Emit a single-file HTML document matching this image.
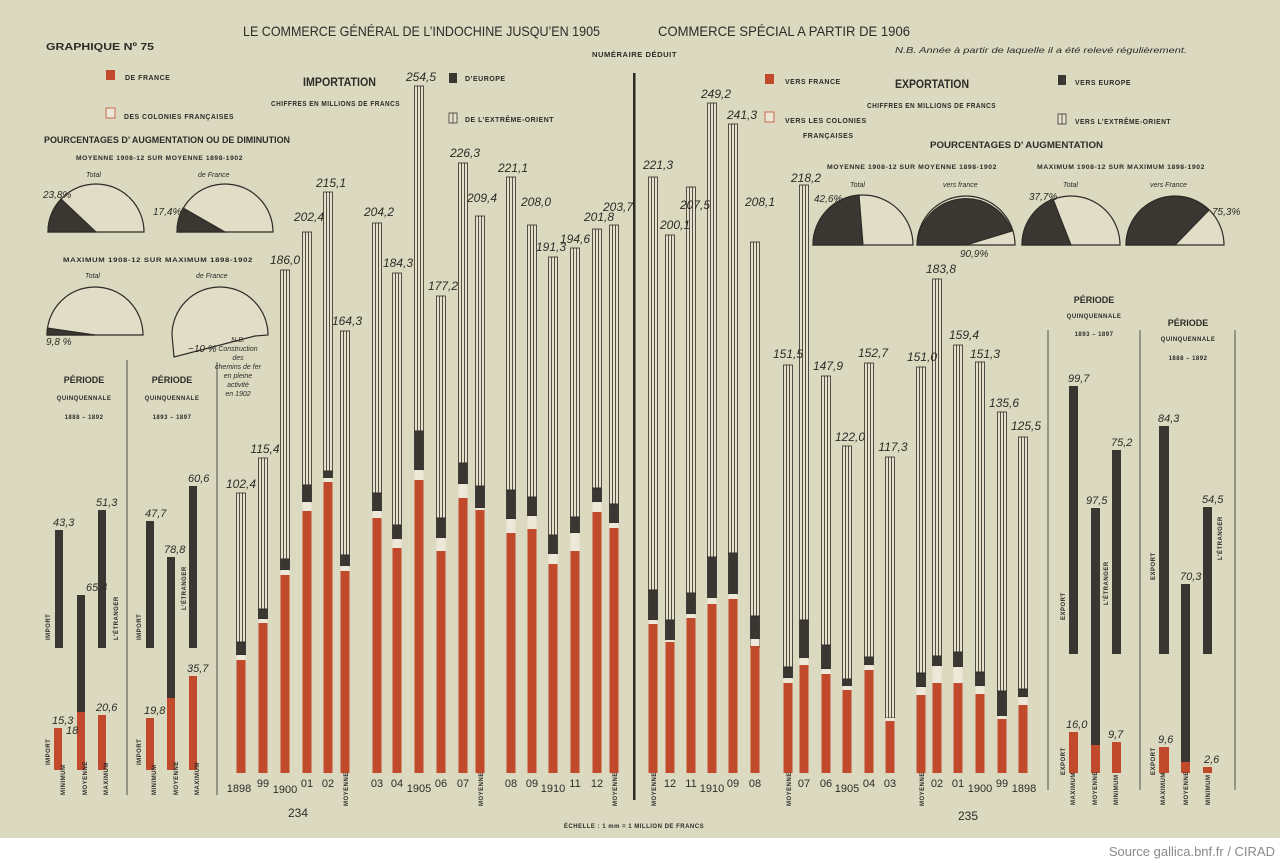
<!DOCTYPE html>
<html><head><meta charset="utf-8"><style>
html,body{margin:0;padding:0;background:#fff}
svg{display:block}
text{font-family:"Liberation Sans",sans-serif;fill:#2e2b27}
.t{font-size:14px}
.s{font-size:7px;font-weight:bold;letter-spacing:0.5px}
.i{font-style:italic;font-size:12px}
.ii{font-style:italic;font-size:7px}
.y{font-size:11px}
.h{font-size:12px;font-weight:bold}
</style></head><body>
<svg width="1280" height="863" viewBox="0 0 1280 863" xmlns="http://www.w3.org/2000/svg">
<defs>
<g id="none"></g>
</defs>
<rect x="0" y="0" width="1280" height="838" fill="#dcd9c1"/>
<rect x="0" y="838" width="1280" height="25" fill="#ffffff"/>
<text x="1275" y="856" text-anchor="end" style="font-size:13px;fill:#8a8a8a">Source gallica.bnf.fr / CIRAD</text>

<!-- titles -->
<text x="243" y="36" class="t" textLength="357" lengthAdjust="spacingAndGlyphs">LE COMMERCE GÉNÉRAL DE L’INDOCHINE JUSQU’EN 1905</text>
<text x="658" y="36" class="t" textLength="252" lengthAdjust="spacingAndGlyphs">COMMERCE SPÉCIAL A PARTIR DE 1906</text>
<text x="46" y="50" style="font-size:10px;font-weight:bold" textLength="108" lengthAdjust="spacingAndGlyphs">GRAPHIQUE Nº 75</text>
<text x="592" y="57" class="s" textLength="85" lengthAdjust="spacingAndGlyphs">NUMÉRAIRE DÉDUIT</text>
<text x="895" y="53" class="ii" style="font-size:8px" textLength="292" lengthAdjust="spacingAndGlyphs">N.B. Année à partir de laquelle il a été relevé régulièrement.</text>

<!-- left legend -->
<rect x="106" y="70" width="9" height="10" fill="#c24a2c"/>
<text x="125" y="80" class="s">DE  FRANCE</text>
<rect x="106" y="108" width="9" height="10" fill="#ece6d4" stroke="#c24a2c" stroke-width="0.8"/>
<text x="124" y="119" class="s" textLength="110" lengthAdjust="spacingAndGlyphs">DES COLONIES FRANÇAISES</text>
<text x="303" y="86" class="h" textLength="73" lengthAdjust="spacingAndGlyphs">IMPORTATION</text>
<text x="271" y="106" class="s" textLength="129" lengthAdjust="spacingAndGlyphs">CHIFFRES EN MILLIONS DE FRANCS</text>
<rect x="449" y="73" width="8" height="10" fill="#3a3632"/>
<text x="465" y="81" class="s">D’EUROPE</text>
<rect x="449" y="113" width="8" height="10" fill="#e8e2cc" stroke="#333" stroke-width="0.8"/><line x1="453" y1="113" x2="453" y2="123" stroke="#333" stroke-width="0.8"/>
<text x="465" y="122" class="s" textLength="89" lengthAdjust="spacingAndGlyphs">DE L’EXTRÊME-ORIENT</text>
<text x="44" y="143" style="font-size:9px;font-weight:bold" textLength="246" lengthAdjust="spacingAndGlyphs">POURCENTAGES D’ AUGMENTATION OU DE DIMINUTION</text>
<text x="76" y="160" class="s" style="font-size:6px" textLength="167" lengthAdjust="spacingAndGlyphs">MOYENNE 1908-12  SUR MOYENNE 1898-1902</text>
<text x="86" y="177" class="ii">Total</text>
<text x="198" y="177" class="ii">de France</text>
<text x="63" y="262" class="s" style="font-size:6px" textLength="190" lengthAdjust="spacingAndGlyphs">MAXIMUM   1908-12  SUR MAXIMUM  1898-1902</text>
<text x="85" y="278" class="ii">Total</text>
<text x="196" y="278" class="ii">de France</text>

<!-- left pies -->
<g stroke="#2e2b27" stroke-width="1.2">
<path d="M48,232 A48,48 0 0 1 144,232 Z" fill="#e1ddc6"/>
<path d="M96,232 L48,232 A48,48 0 0 1 61,199 Z" fill="#3a3632"/>
<path d="M177,232 A48,48 0 0 1 273,232 Z" fill="#e1ddc6"/>
<path d="M225,232 L177,232 A48,48 0 0 1 183,208 Z" fill="#3a3632"/>
<path d="M47,335 A48,48 0 0 1 143,335 Z" fill="#e1ddc6"/>
<path d="M95,335 L47,335 A48,48 0 0 1 47.5,328 Z" fill="#3a3632"/>
<path d="M172,335 A48,48 0 0 1 268,335 L255,336 L174,357 Z" fill="#e1ddc6"/>
</g>
<text x="43" y="198" class="ii" style="font-size:10px">23,8%</text>
<text x="153" y="215" class="ii" style="font-size:10px">17,4%</text>
<text x="46" y="345" class="ii" style="font-size:10px">9,8 %</text>
<text x="188" y="352" class="ii" style="font-size:10px">−10 %</text>
<text x="238" y="342" class="ii" text-anchor="middle">N.B.</text>
<text x="238" y="351" class="ii" text-anchor="middle">Construction</text>
<text x="238" y="360" class="ii" text-anchor="middle">des</text>
<text x="238" y="369" class="ii" text-anchor="middle">chemins de fer</text>
<text x="238" y="378" class="ii" text-anchor="middle">en pleine</text>
<text x="238" y="387" class="ii" text-anchor="middle">activité</text>
<text x="238" y="396" class="ii" text-anchor="middle">en 1902</text>

<!-- right legend -->
<rect x="765" y="74" width="9" height="10" fill="#c24a2c"/>
<text x="785" y="84" class="s">VERS FRANCE</text>
<text x="895" y="88" class="h" textLength="74" lengthAdjust="spacingAndGlyphs">EXPORTATION</text>
<text x="867" y="108" class="s" textLength="129" lengthAdjust="spacingAndGlyphs">CHIFFRES EN MILLIONS DE FRANCS</text>
<rect x="765" y="112" width="9" height="10" fill="#ece6d4" stroke="#c24a2c" stroke-width="0.8"/>
<text x="785" y="123" class="s">VERS LES COLONIES</text>
<text x="803" y="138" class="s">FRANÇAISES</text>
<rect x="1058" y="75" width="8" height="10" fill="#3a3632"/>
<text x="1075" y="85" class="s">VERS EUROPE</text>
<rect x="1058" y="114" width="8" height="10" fill="#e8e2cc" stroke="#333" stroke-width="0.8"/><line x1="1062" y1="114" x2="1062" y2="124" stroke="#333" stroke-width="0.8"/>
<text x="1075" y="124" class="s" textLength="96" lengthAdjust="spacingAndGlyphs">VERS L’EXTRÊME-ORIENT</text>
<text x="930" y="148" style="font-size:9px;font-weight:bold" textLength="173" lengthAdjust="spacingAndGlyphs">POURCENTAGES    D’ AUGMENTATION</text>
<text x="827" y="169" class="s" style="font-size:6px" textLength="170" lengthAdjust="spacingAndGlyphs">MOYENNE 1908-12   SUR MOYENNE 1898-1902</text>
<text x="1037" y="169" class="s" style="font-size:6px" textLength="168" lengthAdjust="spacingAndGlyphs">MAXIMUM 1908-12  SUR MAXIMUM 1898-1902</text>
<text x="850" y="187" class="ii">Total</text>
<text x="943" y="187" class="ii">vers france</text>
<text x="1063" y="187" class="ii">Total</text>
<text x="1150" y="187" class="ii">vers France</text>
<g stroke="#2e2b27" stroke-width="1.2">
<path d="M813,245 A50,50 0 0 1 913,245 Z" fill="#e1ddc6"/>
<path d="M863,245 L813,245 A50,50 0 0 1 859,195 Z" fill="#3a3632"/>
<path d="M917,245 A49,49 0 0 1 1015,245 Z" fill="#e1ddc6"/>
<path d="M966,245 L917,245 A49,49 0 0 1 1012,231 Z" fill="#3a3632"/>
<path d="M1022,245 A49,49 0 0 1 1120,245 Z" fill="#e1ddc6"/>
<path d="M1071,245 L1022,245 A49,49 0 0 1 1053,199 Z" fill="#3a3632"/>
<path d="M1126,245 A49,49 0 0 1 1224,245 Z" fill="#e1ddc6"/>
<path d="M1175,245 L1126,245 A49,49 0 0 1 1209,210 Z" fill="#3a3632"/>
</g>
<text x="814" y="202" class="ii" style="font-size:10px">42,6%</text>
<text x="960" y="257" class="ii" style="font-size:10px">90,9%</text>
<text x="1029" y="200" class="ii" style="font-size:10px">37,7%</text>
<text x="1212" y="215" class="ii" style="font-size:10px">75,3%</text>

<!-- dividers -->
<rect x="633" y="73" width="2.5" height="727" fill="#2e2b27"/>
<line x1="127" y1="360" x2="127" y2="795" stroke="#2e2b27" stroke-width="0.8"/>
<line x1="217" y1="362" x2="217" y2="795" stroke="#2e2b27" stroke-width="0.8"/>
<line x1="1048" y1="330" x2="1048" y2="790" stroke="#2e2b27" stroke-width="0.8"/>
<line x1="1140" y1="330" x2="1140" y2="790" stroke="#2e2b27" stroke-width="0.8"/>
<line x1="1235" y1="330" x2="1235" y2="790" stroke="#2e2b27" stroke-width="0.8"/>

<!-- left side panels -->
<text x="84" y="383" style="font-size:9px;font-weight:bold" text-anchor="middle">PÉRIODE</text>
<text x="84" y="400" class="s" style="font-size:6px" text-anchor="middle">QUINQUENNALE</text>
<text x="84" y="419" class="s" style="font-size:6px" text-anchor="middle">1888 – 1892</text>
<text x="172" y="383" style="font-size:9px;font-weight:bold" text-anchor="middle">PÉRIODE</text>
<text x="172" y="400" class="s" style="font-size:6px" text-anchor="middle">QUINQUENNALE</text>
<text x="172" y="419" class="s" style="font-size:6px" text-anchor="middle">1893 – 1897</text>
<g fill="#3a3632">
<rect x="55" y="530" width="8" height="118"/>
<rect x="77" y="595" width="8" height="117"/>
<rect x="98" y="510" width="8" height="138"/>
<rect x="146" y="521" width="8" height="127"/>
<rect x="167" y="557" width="8" height="141"/>
<rect x="189" y="486" width="8" height="162"/>
<rect x="1069" y="386" width="9" height="268"/>
<rect x="1091" y="508" width="9" height="237"/>
<rect x="1112" y="450" width="9" height="204"/>
<rect x="1159" y="426" width="10" height="228"/>
<rect x="1181" y="584" width="9" height="178"/>
<rect x="1203" y="507" width="9" height="147"/>
</g>
<g fill="#c24a2c">
<rect x="54" y="728" width="8" height="42"/>
<rect x="77" y="712" width="8" height="58"/>
<rect x="98" y="715" width="8" height="55"/>
<rect x="146" y="718" width="8" height="52"/>
<rect x="167" y="698" width="8" height="72"/>
<rect x="189" y="676" width="8" height="94"/>
<rect x="1069" y="732" width="9" height="41"/>
<rect x="1091" y="745" width="9" height="28"/>
<rect x="1112" y="742" width="9" height="31"/>
<rect x="1159" y="747" width="10" height="26"/>
<rect x="1181" y="762" width="9" height="11"/>
<rect x="1203" y="767" width="9" height="6"/>
</g>
<g class="i" style="font-size:11px">
<text x="53" y="526">43,3</text><text x="86" y="591">65,4</text><text x="96" y="506">51,3</text>
<text x="52" y="724">15,3</text><text x="66" y="734">18</text><text x="96" y="711">20,6</text>
<text x="145" y="517">47,7</text><text x="164" y="553">78,8</text><text x="188" y="482">60,6</text>
<text x="144" y="714">19,8</text><text x="187" y="672">35,7</text>
<text x="1068" y="382">99,7</text><text x="1086" y="504">97,5</text><text x="1111" y="446">75,2</text>
<text x="1066" y="728">16,0</text><text x="1108" y="738">9,7</text>
<text x="1158" y="422">84,3</text><text x="1180" y="580">70,3</text><text x="1202" y="503">54,5</text>
<text x="1158" y="743">9,6</text><text x="1204" y="763">2,6</text>
</g>
<text x="1094" y="303" style="font-size:9px;font-weight:bold" text-anchor="middle">PÉRIODE</text>
<text x="1094" y="318" class="s" style="font-size:6px" text-anchor="middle">QUINQUENNALE</text>
<text x="1094" y="336" class="s" style="font-size:6px" text-anchor="middle">1893 – 1897</text>
<text x="1188" y="326" style="font-size:9px;font-weight:bold" text-anchor="middle">PÉRIODE</text>
<text x="1188" y="341" class="s" style="font-size:6px" text-anchor="middle">QUINQUENNALE</text>
<text x="1188" y="360" class="s" style="font-size:6px" text-anchor="middle">1888 – 1892</text>
<g class="s" style="font-size:6px">
<text transform="translate(50,640) rotate(-90)">IMPORT</text>
<text transform="translate(50,765) rotate(-90)">IMPORT</text>
<text transform="translate(65,795) rotate(-90)">MINIMUM</text>
<text transform="translate(87,795) rotate(-90)">MOYENNE</text>
<text transform="translate(108,795) rotate(-90)">MAXIMUM</text>
<text transform="translate(118,640) rotate(-90)">L’ÉTRANGER</text>
<text transform="translate(141,640) rotate(-90)">IMPORT</text>
<text transform="translate(141,765) rotate(-90)">IMPORT</text>
<text transform="translate(156,795) rotate(-90)">MINIMUM</text>
<text transform="translate(178,795) rotate(-90)">MOYENNE</text>
<text transform="translate(199,795) rotate(-90)">MAXIMUM</text>
<text transform="translate(186,610) rotate(-90)">L’ÉTRANGER</text>
<text transform="translate(1065,620) rotate(-90)">EXPORT</text>
<text transform="translate(1065,775) rotate(-90)">EXPORT</text>
<text transform="translate(1075,805) rotate(-90)">MAXIMUM</text>
<text transform="translate(1097,805) rotate(-90)">MOYENNE</text>
<text transform="translate(1118,805) rotate(-90)">MINIMUM</text>
<text transform="translate(1108,605) rotate(-90)">L’ÉTRANGER</text>
<text transform="translate(1155,580) rotate(-90)">EXPORT</text>
<text transform="translate(1155,775) rotate(-90)">EXPORT</text>
<text transform="translate(1165,805) rotate(-90)">MAXIMUM</text>
<text transform="translate(1188,805) rotate(-90)">MOYENNE</text>
<text transform="translate(1210,805) rotate(-90)">MINIMUM</text>
<text transform="translate(1222,560) rotate(-90)">L’ÉTRANGER</text>
</g>

<!-- main bars -->
<g id="bars" stroke="#2e2b27" stroke-width="0.8">
</g>
<g stroke="#2e2b27" stroke-width="0.8">
<!-- import: cx,T,D,R -->
<g transform="translate(236.5,0)"><rect y="493" width="9" height="149" fill="#e6e0ca"/><path d="M3,493V642M6,493V642"/><rect y="642" width="9" height="13" fill="#3a3632"/><rect y="655" width="9" height="5" fill="#eee8d8" stroke="none"/><rect y="660" width="9" height="113" fill="#c24a2c" stroke="none"/></g>
<g transform="translate(258.5,0)"><rect y="458" width="9" height="151" fill="#e6e0ca"/><path d="M3,458V609M6,458V609"/><rect y="609" width="9" height="10" fill="#3a3632"/><rect y="619" width="9" height="4" fill="#eee8d8" stroke="none"/><rect y="623" width="9" height="150" fill="#c24a2c" stroke="none"/></g>
<g transform="translate(280.5,0)"><rect y="270" width="9" height="289" fill="#e6e0ca"/><path d="M3,270V559M6,270V559"/><rect y="559" width="9" height="11" fill="#3a3632"/><rect y="570" width="9" height="5" fill="#eee8d8" stroke="none"/><rect y="575" width="9" height="198" fill="#c24a2c" stroke="none"/></g>
<g transform="translate(302.5,0)"><rect y="232" width="9" height="253" fill="#e6e0ca"/><path d="M3,232V485M6,232V485"/><rect y="485" width="9" height="17" fill="#3a3632"/><rect y="502" width="9" height="9" fill="#eee8d8" stroke="none"/><rect y="511" width="9" height="262" fill="#c24a2c" stroke="none"/></g>
<g transform="translate(323.5,0)"><rect y="192" width="9" height="279" fill="#e6e0ca"/><path d="M3,192V471M6,192V471"/><rect y="471" width="9" height="7" fill="#3a3632"/><rect y="478" width="9" height="4" fill="#eee8d8" stroke="none"/><rect y="482" width="9" height="291" fill="#c24a2c" stroke="none"/></g>
<g transform="translate(340.5,0)"><rect y="331" width="9" height="224" fill="#e6e0ca"/><path d="M3,331V555M6,331V555"/><rect y="555" width="9" height="11" fill="#3a3632"/><rect y="566" width="9" height="5" fill="#eee8d8" stroke="none"/><rect y="571" width="9" height="202" fill="#c24a2c" stroke="none"/></g>
<g transform="translate(372.5,0)"><rect y="223" width="9" height="270" fill="#e6e0ca"/><path d="M3,223V493M6,223V493"/><rect y="493" width="9" height="18" fill="#3a3632"/><rect y="511" width="9" height="7" fill="#eee8d8" stroke="none"/><rect y="518" width="9" height="255" fill="#c24a2c" stroke="none"/></g>
<g transform="translate(392.5,0)"><rect y="273" width="9" height="252" fill="#e6e0ca"/><path d="M3,273V525M6,273V525"/><rect y="525" width="9" height="14" fill="#3a3632"/><rect y="539" width="9" height="9" fill="#eee8d8" stroke="none"/><rect y="548" width="9" height="225" fill="#c24a2c" stroke="none"/></g>
<g transform="translate(414.5,0)"><rect y="86" width="9" height="345" fill="#e6e0ca"/><path d="M3,86V431M6,86V431"/><rect y="431" width="9" height="39" fill="#3a3632"/><rect y="470" width="9" height="10" fill="#eee8d8" stroke="none"/><rect y="480" width="9" height="293" fill="#c24a2c" stroke="none"/></g>
<g transform="translate(436.5,0)"><rect y="296" width="9" height="222" fill="#e6e0ca"/><path d="M3,296V518M6,296V518"/><rect y="518" width="9" height="20" fill="#3a3632"/><rect y="538" width="9" height="13" fill="#eee8d8" stroke="none"/><rect y="551" width="9" height="222" fill="#c24a2c" stroke="none"/></g>
<g transform="translate(458.5,0)"><rect y="163" width="9" height="300" fill="#e6e0ca"/><path d="M3,163V463M6,163V463"/><rect y="463" width="9" height="21" fill="#3a3632"/><rect y="484" width="9" height="14" fill="#eee8d8" stroke="none"/><rect y="498" width="9" height="275" fill="#c24a2c" stroke="none"/></g>
<g transform="translate(475.5,0)"><rect y="216" width="9" height="270" fill="#e6e0ca"/><path d="M3,216V486M6,216V486"/><rect y="486" width="9" height="22" fill="#3a3632"/><rect y="508" width="9" height="2" fill="#eee8d8" stroke="none"/><rect y="510" width="9" height="263" fill="#c24a2c" stroke="none"/></g>
<g transform="translate(506.5,0)"><rect y="177" width="9" height="313" fill="#e6e0ca"/><path d="M3,177V490M6,177V490"/><rect y="490" width="9" height="29" fill="#3a3632"/><rect y="519" width="9" height="14" fill="#eee8d8" stroke="none"/><rect y="533" width="9" height="240" fill="#c24a2c" stroke="none"/></g>
<g transform="translate(527.5,0)"><rect y="225" width="9" height="272" fill="#e6e0ca"/><path d="M3,225V497M6,225V497"/><rect y="497" width="9" height="19" fill="#3a3632"/><rect y="516" width="9" height="13" fill="#eee8d8" stroke="none"/><rect y="529" width="9" height="244" fill="#c24a2c" stroke="none"/></g>
<g transform="translate(548.5,0)"><rect y="257" width="9" height="278" fill="#e6e0ca"/><path d="M3,257V535M6,257V535"/><rect y="535" width="9" height="19" fill="#3a3632"/><rect y="554" width="9" height="10" fill="#eee8d8" stroke="none"/><rect y="564" width="9" height="209" fill="#c24a2c" stroke="none"/></g>
<g transform="translate(570.5,0)"><rect y="248" width="9" height="269" fill="#e6e0ca"/><path d="M3,248V517M6,248V517"/><rect y="517" width="9" height="16" fill="#3a3632"/><rect y="533" width="9" height="18" fill="#eee8d8" stroke="none"/><rect y="551" width="9" height="222" fill="#c24a2c" stroke="none"/></g>
<g transform="translate(592.5,0)"><rect y="229" width="9" height="259" fill="#e6e0ca"/><path d="M3,229V488M6,229V488"/><rect y="488" width="9" height="14" fill="#3a3632"/><rect y="502" width="9" height="10" fill="#eee8d8" stroke="none"/><rect y="512" width="9" height="261" fill="#c24a2c" stroke="none"/></g>
<g transform="translate(609.5,0)"><rect y="225" width="9" height="279" fill="#e6e0ca"/><path d="M3,225V504M6,225V504"/><rect y="504" width="9" height="19" fill="#3a3632"/><rect y="523" width="9" height="5" fill="#eee8d8" stroke="none"/><rect y="528" width="9" height="245" fill="#c24a2c" stroke="none"/></g>
<!-- export -->
<g transform="translate(648.5,0)"><rect y="177" width="9" height="413" fill="#e6e0ca"/><path d="M3,177V590M6,177V590"/><rect y="590" width="9" height="30" fill="#3a3632"/><rect y="620" width="9" height="4" fill="#eee8d8" stroke="none"/><rect y="624" width="9" height="149" fill="#c24a2c" stroke="none"/></g>
<g transform="translate(665.5,0)"><rect y="235" width="9" height="385" fill="#e6e0ca"/><path d="M3,235V620M6,235V620"/><rect y="620" width="9" height="20" fill="#3a3632"/><rect y="640" width="9" height="2" fill="#eee8d8" stroke="none"/><rect y="642" width="9" height="131" fill="#c24a2c" stroke="none"/></g>
<g transform="translate(686.5,0)"><rect y="187" width="9" height="406" fill="#e6e0ca"/><path d="M3,187V593M6,187V593"/><rect y="593" width="9" height="21" fill="#3a3632"/><rect y="614" width="9" height="4" fill="#eee8d8" stroke="none"/><rect y="618" width="9" height="155" fill="#c24a2c" stroke="none"/></g>
<g transform="translate(707.5,0)"><rect y="103" width="9" height="454" fill="#e6e0ca"/><path d="M3,103V557M6,103V557"/><rect y="557" width="9" height="41" fill="#3a3632"/><rect y="598" width="9" height="6" fill="#eee8d8" stroke="none"/><rect y="604" width="9" height="169" fill="#c24a2c" stroke="none"/></g>
<g transform="translate(728.5,0)"><rect y="124" width="9" height="429" fill="#e6e0ca"/><path d="M3,124V553M6,124V553"/><rect y="553" width="9" height="41" fill="#3a3632"/><rect y="594" width="9" height="5" fill="#eee8d8" stroke="none"/><rect y="599" width="9" height="174" fill="#c24a2c" stroke="none"/></g>
<g transform="translate(750.5,0)"><rect y="242" width="9" height="374" fill="#e6e0ca"/><path d="M3,242V616M6,242V616"/><rect y="616" width="9" height="31" fill="#3a3632"/><rect y="639" width="9" height="7" fill="#eee8d8" stroke="none"/><rect y="646" width="9" height="127" fill="#c24a2c" stroke="none"/></g>
<g transform="translate(783.5,0)"><rect y="365" width="9" height="302" fill="#e6e0ca"/><path d="M3,365V667M6,365V667"/><rect y="667" width="9" height="11" fill="#3a3632"/><rect y="678" width="9" height="5" fill="#eee8d8" stroke="none"/><rect y="683" width="9" height="90" fill="#c24a2c" stroke="none"/></g>
<g transform="translate(799.5,0)"><rect y="185" width="9" height="435" fill="#e6e0ca"/><path d="M3,185V620M6,185V620"/><rect y="620" width="9" height="38" fill="#3a3632"/><rect y="658" width="9" height="7" fill="#eee8d8" stroke="none"/><rect y="665" width="9" height="108" fill="#c24a2c" stroke="none"/></g>
<g transform="translate(821.5,0)"><rect y="376" width="9" height="269" fill="#e6e0ca"/><path d="M3,376V645M6,376V645"/><rect y="645" width="9" height="24" fill="#3a3632"/><rect y="669" width="9" height="5" fill="#eee8d8" stroke="none"/><rect y="674" width="9" height="99" fill="#c24a2c" stroke="none"/></g>
<g transform="translate(842.5,0)"><rect y="446" width="9" height="233" fill="#e6e0ca"/><path d="M3,446V679M6,446V679"/><rect y="679" width="9" height="7" fill="#3a3632"/><rect y="686" width="9" height="4" fill="#eee8d8" stroke="none"/><rect y="690" width="9" height="83" fill="#c24a2c" stroke="none"/></g>
<g transform="translate(864.5,0)"><rect y="363" width="9" height="294" fill="#e6e0ca"/><path d="M3,363V657M6,363V657"/><rect y="657" width="9" height="8" fill="#3a3632"/><rect y="665" width="9" height="5" fill="#eee8d8" stroke="none"/><rect y="670" width="9" height="103" fill="#c24a2c" stroke="none"/></g>
<g transform="translate(885.5,0)"><rect y="457" width="9" height="261" fill="#e6e0ca"/><path d="M3,457V718M6,457V718"/><rect y="718" width="9" height="3" fill="#eee8d8" stroke="none"/><rect y="721" width="9" height="52" fill="#c24a2c" stroke="none"/></g>
<g transform="translate(916.5,0)"><rect y="367" width="9" height="306" fill="#e6e0ca"/><path d="M3,367V673M6,367V673"/><rect y="673" width="9" height="14" fill="#3a3632"/><rect y="687" width="9" height="8" fill="#eee8d8" stroke="none"/><rect y="695" width="9" height="78" fill="#c24a2c" stroke="none"/></g>
<g transform="translate(932.5,0)"><rect y="279" width="9" height="377" fill="#e6e0ca"/><path d="M3,279V656M6,279V656"/><rect y="656" width="9" height="10" fill="#3a3632"/><rect y="666" width="9" height="17" fill="#eee8d8" stroke="none"/><rect y="683" width="9" height="90" fill="#c24a2c" stroke="none"/></g>
<g transform="translate(953.5,0)"><rect y="345" width="9" height="307" fill="#e6e0ca"/><path d="M3,345V652M6,345V652"/><rect y="652" width="9" height="15" fill="#3a3632"/><rect y="667" width="9" height="16" fill="#eee8d8" stroke="none"/><rect y="683" width="9" height="90" fill="#c24a2c" stroke="none"/></g>
<g transform="translate(975.5,0)"><rect y="362" width="9" height="310" fill="#e6e0ca"/><path d="M3,362V672M6,362V672"/><rect y="672" width="9" height="14" fill="#3a3632"/><rect y="686" width="9" height="8" fill="#eee8d8" stroke="none"/><rect y="694" width="9" height="79" fill="#c24a2c" stroke="none"/></g>
<g transform="translate(997.5,0)"><rect y="412" width="9" height="279" fill="#e6e0ca"/><path d="M3,412V691M6,412V691"/><rect y="691" width="9" height="25" fill="#3a3632"/><rect y="716" width="9" height="3" fill="#eee8d8" stroke="none"/><rect y="719" width="9" height="54" fill="#c24a2c" stroke="none"/></g>
<g transform="translate(1018.5,0)"><rect y="437" width="9" height="252" fill="#e6e0ca"/><path d="M3,437V689M6,437V689"/><rect y="689" width="9" height="8" fill="#3a3632"/><rect y="697" width="9" height="8" fill="#eee8d8" stroke="none"/><rect y="705" width="9" height="68" fill="#c24a2c" stroke="none"/></g>
</g>

<!-- totals -->
<g class="i" text-anchor="middle">
<text x="241" y="488">102,4</text><text x="265" y="453">115,4</text><text x="285" y="264">186,0</text>
<text x="309" y="221">202,4</text><text x="331" y="187">215,1</text><text x="347" y="325">164,3</text>
<text x="379" y="216">204,2</text><text x="398" y="267">184,3</text><text x="421" y="81">254,5</text>
<text x="443" y="290">177,2</text><text x="465" y="157">226,3</text><text x="482" y="202">209,4</text>
<text x="513" y="172">221,1</text><text x="536" y="206">208,0</text><text x="551" y="251">191,3</text>
<text x="575" y="243">194,6</text><text x="599" y="221">201,8</text><text x="618" y="211">203,7</text>
<text x="658" y="169">221,3</text><text x="675" y="229">200,1</text><text x="695" y="209">207,5</text>
<text x="716" y="98">249,2</text><text x="742" y="119">241,3</text><text x="760" y="206">208,1</text>
<text x="788" y="358">151,5</text><text x="806" y="182">218,2</text><text x="828" y="370">147,9</text>
<text x="850" y="441">122,0</text><text x="873" y="357">152,7</text><text x="893" y="451">117,3</text>
<text x="922" y="361">151,0</text><text x="941" y="273">183,8</text><text x="964" y="339">159,4</text>
<text x="985" y="358">151,3</text><text x="1004" y="407">135,6</text><text x="1026" y="430">125,5</text>
</g>

<!-- years -->
<g class="y" text-anchor="middle">
<text x="239" y="792">1898</text><text x="263" y="787">99</text><text x="285" y="793">1900</text>
<text x="307" y="787">01</text><text x="328" y="787">02</text><text x="377" y="787">03</text>
<text x="397" y="787">04</text><text x="419" y="792">1905</text><text x="441" y="787">06</text>
<text x="463" y="787">07</text><text x="511" y="787">08</text><text x="532" y="787">09</text>
<text x="553" y="792">1910</text><text x="575" y="787">11</text><text x="597" y="787">12</text>
<text x="670" y="787">12</text><text x="691" y="787">11</text><text x="712" y="792">1910</text>
<text x="733" y="787">09</text><text x="755" y="787">08</text><text x="804" y="787">07</text>
<text x="826" y="787">06</text><text x="847" y="792">1905</text><text x="869" y="787">04</text>
<text x="890" y="787">03</text><text x="937" y="787">02</text><text x="958" y="787">01</text>
<text x="980" y="792">1900</text><text x="1002" y="787">99</text><text x="1024" y="792">1898</text>
</g>
<g class="s" style="font-size:6px">
<text transform="translate(348,806) rotate(-90)">MOYENNE</text>
<text transform="translate(483,806) rotate(-90)">MOYENNE</text>
<text transform="translate(617,806) rotate(-90)">MOYENNE</text>
<text transform="translate(656,806) rotate(-90)">MOYENNE</text>
<text transform="translate(791,806) rotate(-90)">MOYENNE</text>
<text transform="translate(924,806) rotate(-90)">MOYENNE</text>
</g>
<text x="298" y="817" style="font-size:12px" text-anchor="middle">234</text>
<text x="968" y="820" style="font-size:12px" text-anchor="middle">235</text>
<text x="634" y="828" class="s" style="font-size:6px" text-anchor="middle">ÉCHELLE : 1 mm = 1 MILLION DE FRANCS</text>
</svg>
</body></html>
